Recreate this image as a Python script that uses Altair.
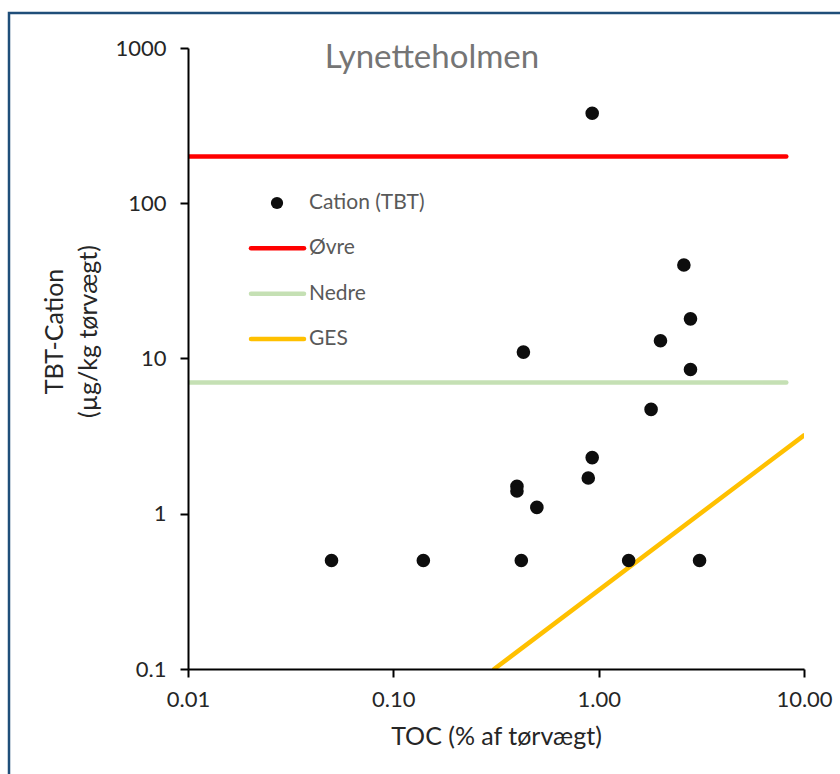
import altair as alt
import pandas as pd

# --- data ---
toc = [0.05, 0.14, 0.42, 1.4, 3.1, 0.40, 0.40, 0.50, 0.89, 0.93, 0.43, 1.8, 2.0, 2.6, 2.8, 2.8, 0.93]
tbt = [0.5, 0.5, 0.5, 0.5, 0.5, 1.5, 1.4, 1.1, 1.7, 2.3, 11, 4.7, 13, 40, 18, 8.5, 380]

ovre_x = [0.01, 8.2]
ovre_y = [200, 200]
nedre_x = [0.01, 8.2]
nedre_y = [7, 7]
ges_x = [0.31, 10]
ges_y = [0.1, 3.2]

series_names = ["Cation (TBT)", "Øvre", "Nedre", "GES"]
series_colors = ["#0d0d0d", "#ff0000", "#c5e0b4", "#ffc000"]

x_ticks = [0.01, 0.1, 1, 10]
y_ticks = [0.1, 1, 10, 100, 1000]

chart_title = "Lynetteholmen"

FONT = "Lato"

pts = pd.DataFrame({"toc": toc, "tbt": tbt, "series": "Cation (TBT)"})
lines = pd.concat([
    pd.DataFrame({"toc": ovre_x, "tbt": ovre_y, "series": "Øvre"}),
    pd.DataFrame({"toc": nedre_x, "tbt": nedre_y, "series": "Nedre"}),
    pd.DataFrame({"toc": ges_x, "tbt": ges_y, "series": "GES"}),
], ignore_index=True)
legend_df = pd.DataFrame({"series": series_names})

xscale = alt.Scale(type="log", domain=[0.01, 10], nice=False)
yscale = alt.Scale(type="log", domain=[0.1, 1000], nice=False)
cscale = alt.Scale(domain=series_names, range=series_colors)

x_enc = alt.X("toc:Q", scale=xscale,
              axis=alt.Axis(values=x_ticks, format=".2f", title="TOC (% af tørvægt)",
                            labelPadding=12, titlePadding=14, zindex=1, labelFlush=False))
y_enc = alt.Y("tbt:Q", scale=yscale,
              axis=alt.Axis(values=y_ticks, format="~g",
                            title=["TBT-Cation", "(µg/kg tørvægt)"],
                            labelPadding=14, titleLineHeight=34, labelFlush=False,
                            titleX=-146, titleY=283, titleBaseline="top", zindex=1))

line_layer = alt.Chart(lines).mark_line(strokeWidth=4.5, strokeCap="round", clip=True).encode(
    x=x_enc,
    y=y_enc,
    color=alt.Color("series:N", scale=cscale, legend=None),
    detail="series:N",
)

point_layer = alt.Chart(pts).mark_circle(size=185, opacity=1).encode(
    x=x_enc,
    y=y_enc,
    color=alt.Color("series:N", scale=cscale, legend=None),
)

main = alt.layer(line_layer, point_layer)

# --- manual legend inside the plot ---
ly = alt.Y("series:N", scale=alt.Scale(type="point", domain=series_names, range=[155, 291], padding=0),
           axis=None)
leg_lines = alt.Chart(legend_df).mark_rule(strokeWidth=4.5, strokeCap="round").encode(
    x=alt.value(63), x2=alt.value(116), y=ly,
    color=alt.Color("series:N", scale=cscale, legend=None),
).transform_filter(alt.datum.series != "Cation (TBT)")
leg_point = alt.Chart(legend_df).mark_circle(size=150, opacity=1).encode(
    x=alt.value(89), y=ly,
    color=alt.Color("series:N", scale=cscale, legend=None),
).transform_filter(alt.datum.series == "Cation (TBT)")
leg_text = alt.Chart(legend_df).mark_text(align="left", baseline="middle", font=FONT,
                                          fontSize=21, color="#595959").encode(
    x=alt.value(121), y=ly, text="series:N",
)
legend = alt.layer(leg_lines, leg_point, leg_text)

# title inside the plot area
title_layer = alt.Chart(pd.DataFrame({"t": [chart_title]})).mark_text(
    align="center", baseline="middle", font=FONT, fontSize=33, color="#757575"
).encode(x=alt.value(244), y=alt.value(10), text="t:N")

# outer frame like the reference's chart border
frame = alt.Chart(pd.DataFrame({"a": [0]})).mark_rect(
    fillOpacity=0, fill="white", stroke="#1f4e79", strokeWidth=2.5
).encode(x=alt.value(-179), x2=alt.value(670), y=alt.value(-35), y2=alt.value(740))

chart = alt.layer(frame, main, legend, title_layer).resolve_scale(y="independent").properties(
    width=616, height=621,
    autosize="none",
    background="white",
    padding={"left": 188, "top": 48, "right": 36, "bottom": 105},
).configure_view(strokeWidth=0, stroke="transparent").configure_axis(
    domainColor="black", domainWidth=2, tickColor="black", tickWidth=2, tickSize=8,
    grid=False, labelFont=FONT, labelFontSize=22, labelColor="#262626",
    titleFont=FONT, titleFontSize=25, titleFontWeight="normal", titleColor="#262626",
)

chart.save("out.html", embed_options={"renderer": "svg", "actions": False})
